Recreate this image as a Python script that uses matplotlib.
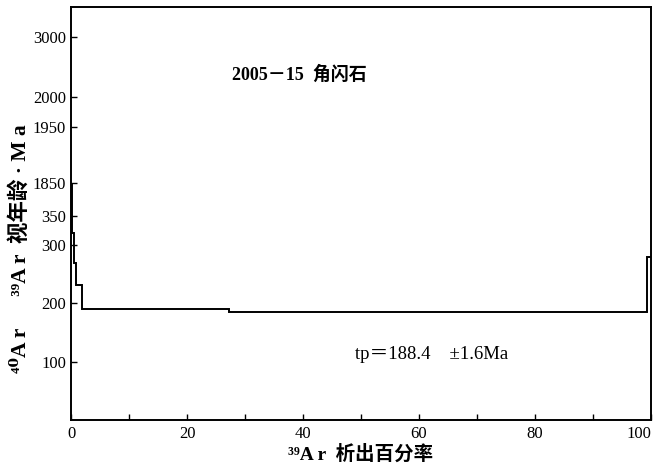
import numpy as np
import matplotlib
matplotlib.use("Agg")
import matplotlib.pyplot as plt

# ---- data ----
edges = [0, 0.25, 0.55, 0.9, 1.9, 27.3, 99.3, 100]          # cumulative 39Ar released (%)
ages = [1820, 320, 270, 232, 191, 186, 280]                  # apparent age (Ma)
yticks = [100, 200, 300, 350, 1850, 1950, 2000, 3000]
xticks = [0, 20, 40, 60, 80, 100]
sample_label = "2005－15  角闪石"
plateau_label = "tp＝188.4    ±1.6Ma"

# piecewise (broken) age axis as in the original figure
brk_data = np.array([0, 300, 350, 1850, 1950, 2000, 3000, 3500], float)
brk_pos = np.array([0, 175, 204, 237, 293, 323, 383, 413], float)

def fwd(v):
    return np.interp(v, brk_data, brk_pos)

def inv(p):
    return np.interp(p, brk_pos, brk_data)

fam = ['Liberation Serif', 'DejaVu Serif', 'Noto Sans CJK SC']
plt.rcParams['font.family'] = fam

fig = plt.figure(figsize=(6.58, 4.69), dpi=100)
ax = fig.add_axes([71/658, 1 - 420/469, (651-71)/658, (420-7)/469])
ax.set_yscale('function', functions=(fwd, inv))
ax.set_xlim(0, 100)
ax.set_ylim(0, 3500)

ax.stairs(ages, edges, color='black', linewidth=1.4, baseline=None)

ax.set_yticks(yticks)
ax.set_yticklabels([str(t) for t in yticks], fontsize=12)
ax.set_xticks(xticks)
xl = ax.set_xticklabels([str(t) for t in xticks], fontsize=12)
xl[-1].set_horizontalalignment('right')
ax.set_xticks(np.arange(10, 100, 20), minor=True)
ax.tick_params(axis='both', which='both', direction='in', length=4, width=1)
ax.tick_params(axis='x', which='major', pad=4)
for s in ax.spines.values():
    s.set_linewidth(1.4)

ax.text(0.278, 0.835, sample_label, transform=ax.transAxes, fontsize=13,
        fontweight='bold', family=fam, va='center')
ax.text(0.49, 0.158, plateau_label, transform=ax.transAxes, fontsize=13.5,
        family=fam, va='center')

ax.set_xlabel("³⁹A r  析出百分率", fontsize=14, fontweight='bold', family=fam, labelpad=2)
fig.text(0.03, 0.47, "⁴⁰A r      ³⁹A r  视年龄 · M a", rotation=90, fontsize=15.5,
         fontweight='bold', family=fam, ha='center', va='center')

fig.savefig("out.png", dpi=100)
